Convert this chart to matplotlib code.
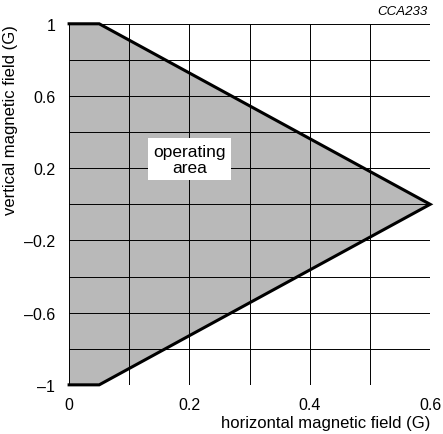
import numpy as np
import matplotlib
matplotlib.use('Agg')
import matplotlib.pyplot as plt

plt.rcParams['font.family'] = ['Liberation Sans', 'DejaVu Sans']

# Borde del area de funcionamiento (G)
area_x = [0, 0.05, 0.6, 0.05, 0]
area_y = [1, 1, 0, -1, -1]

# Marcas de los ejes
x_ticks = [0, 0.2, 0.4, 0.6]
x_tick_labels = ['0', '0.2', '0.4', '0.6']
y_ticks = [-1, -0.6, -0.2, 0.2, 0.6, 1]
y_tick_labels = ['\u20131', '\u20130.6', '\u20130.2', '0.2', '0.6', '1']

fig = plt.figure(figsize=(4.43, 4.35), dpi=100)
ax = fig.add_axes([0.156, 0.113, 0.815, 0.830])

# Rejilla
for gx in np.arange(0, 0.61, 0.1):
    ax.axvline(gx, color='black', lw=0.7, zorder=1)
for gy in np.arange(-1, 1.01, 0.2):
    ax.axhline(gy, color='black', lw=0.7, zorder=1)

# Area sombreada
ax.fill(area_x, area_y, facecolor='#b9b9b9', edgecolor='none', zorder=0.5)
ax.plot(area_x, area_y, color='black', lw=2.2, zorder=3, clip_on=False,
        solid_joinstyle='miter')

ax.text(0.2, 0.25, 'operating\narea', ha='center', va='center', fontsize=12.5,
        linespacing=1.1, zorder=4,
        bbox=dict(facecolor='white', edgecolor='none', pad=4))

ax.set_xlim(0, 0.6)
ax.set_ylim(-1, 1)
ax.set_xticks(x_ticks)
ax.set_xticklabels(x_tick_labels)
ax.set_yticks(y_ticks)
ax.set_yticklabels(y_tick_labels)
ax.tick_params(length=0, labelsize=11.5)
ax.tick_params(axis='x', pad=9)
ax.tick_params(axis='y', pad=10)
for s in ax.spines.values():
    s.set_visible(False)

ax.set_xlabel('horizontal magnetic field (G)', fontsize=12, labelpad=2,
              loc='right')
ax.set_ylabel('vertical magnetic field (G)', fontsize=12, labelpad=4,
              loc='top')

fig.text(0.966, 0.972, 'CCA233', ha='right', va='center', fontsize=9.5,
         style='italic')

fig.savefig('out.png', dpi=100)
